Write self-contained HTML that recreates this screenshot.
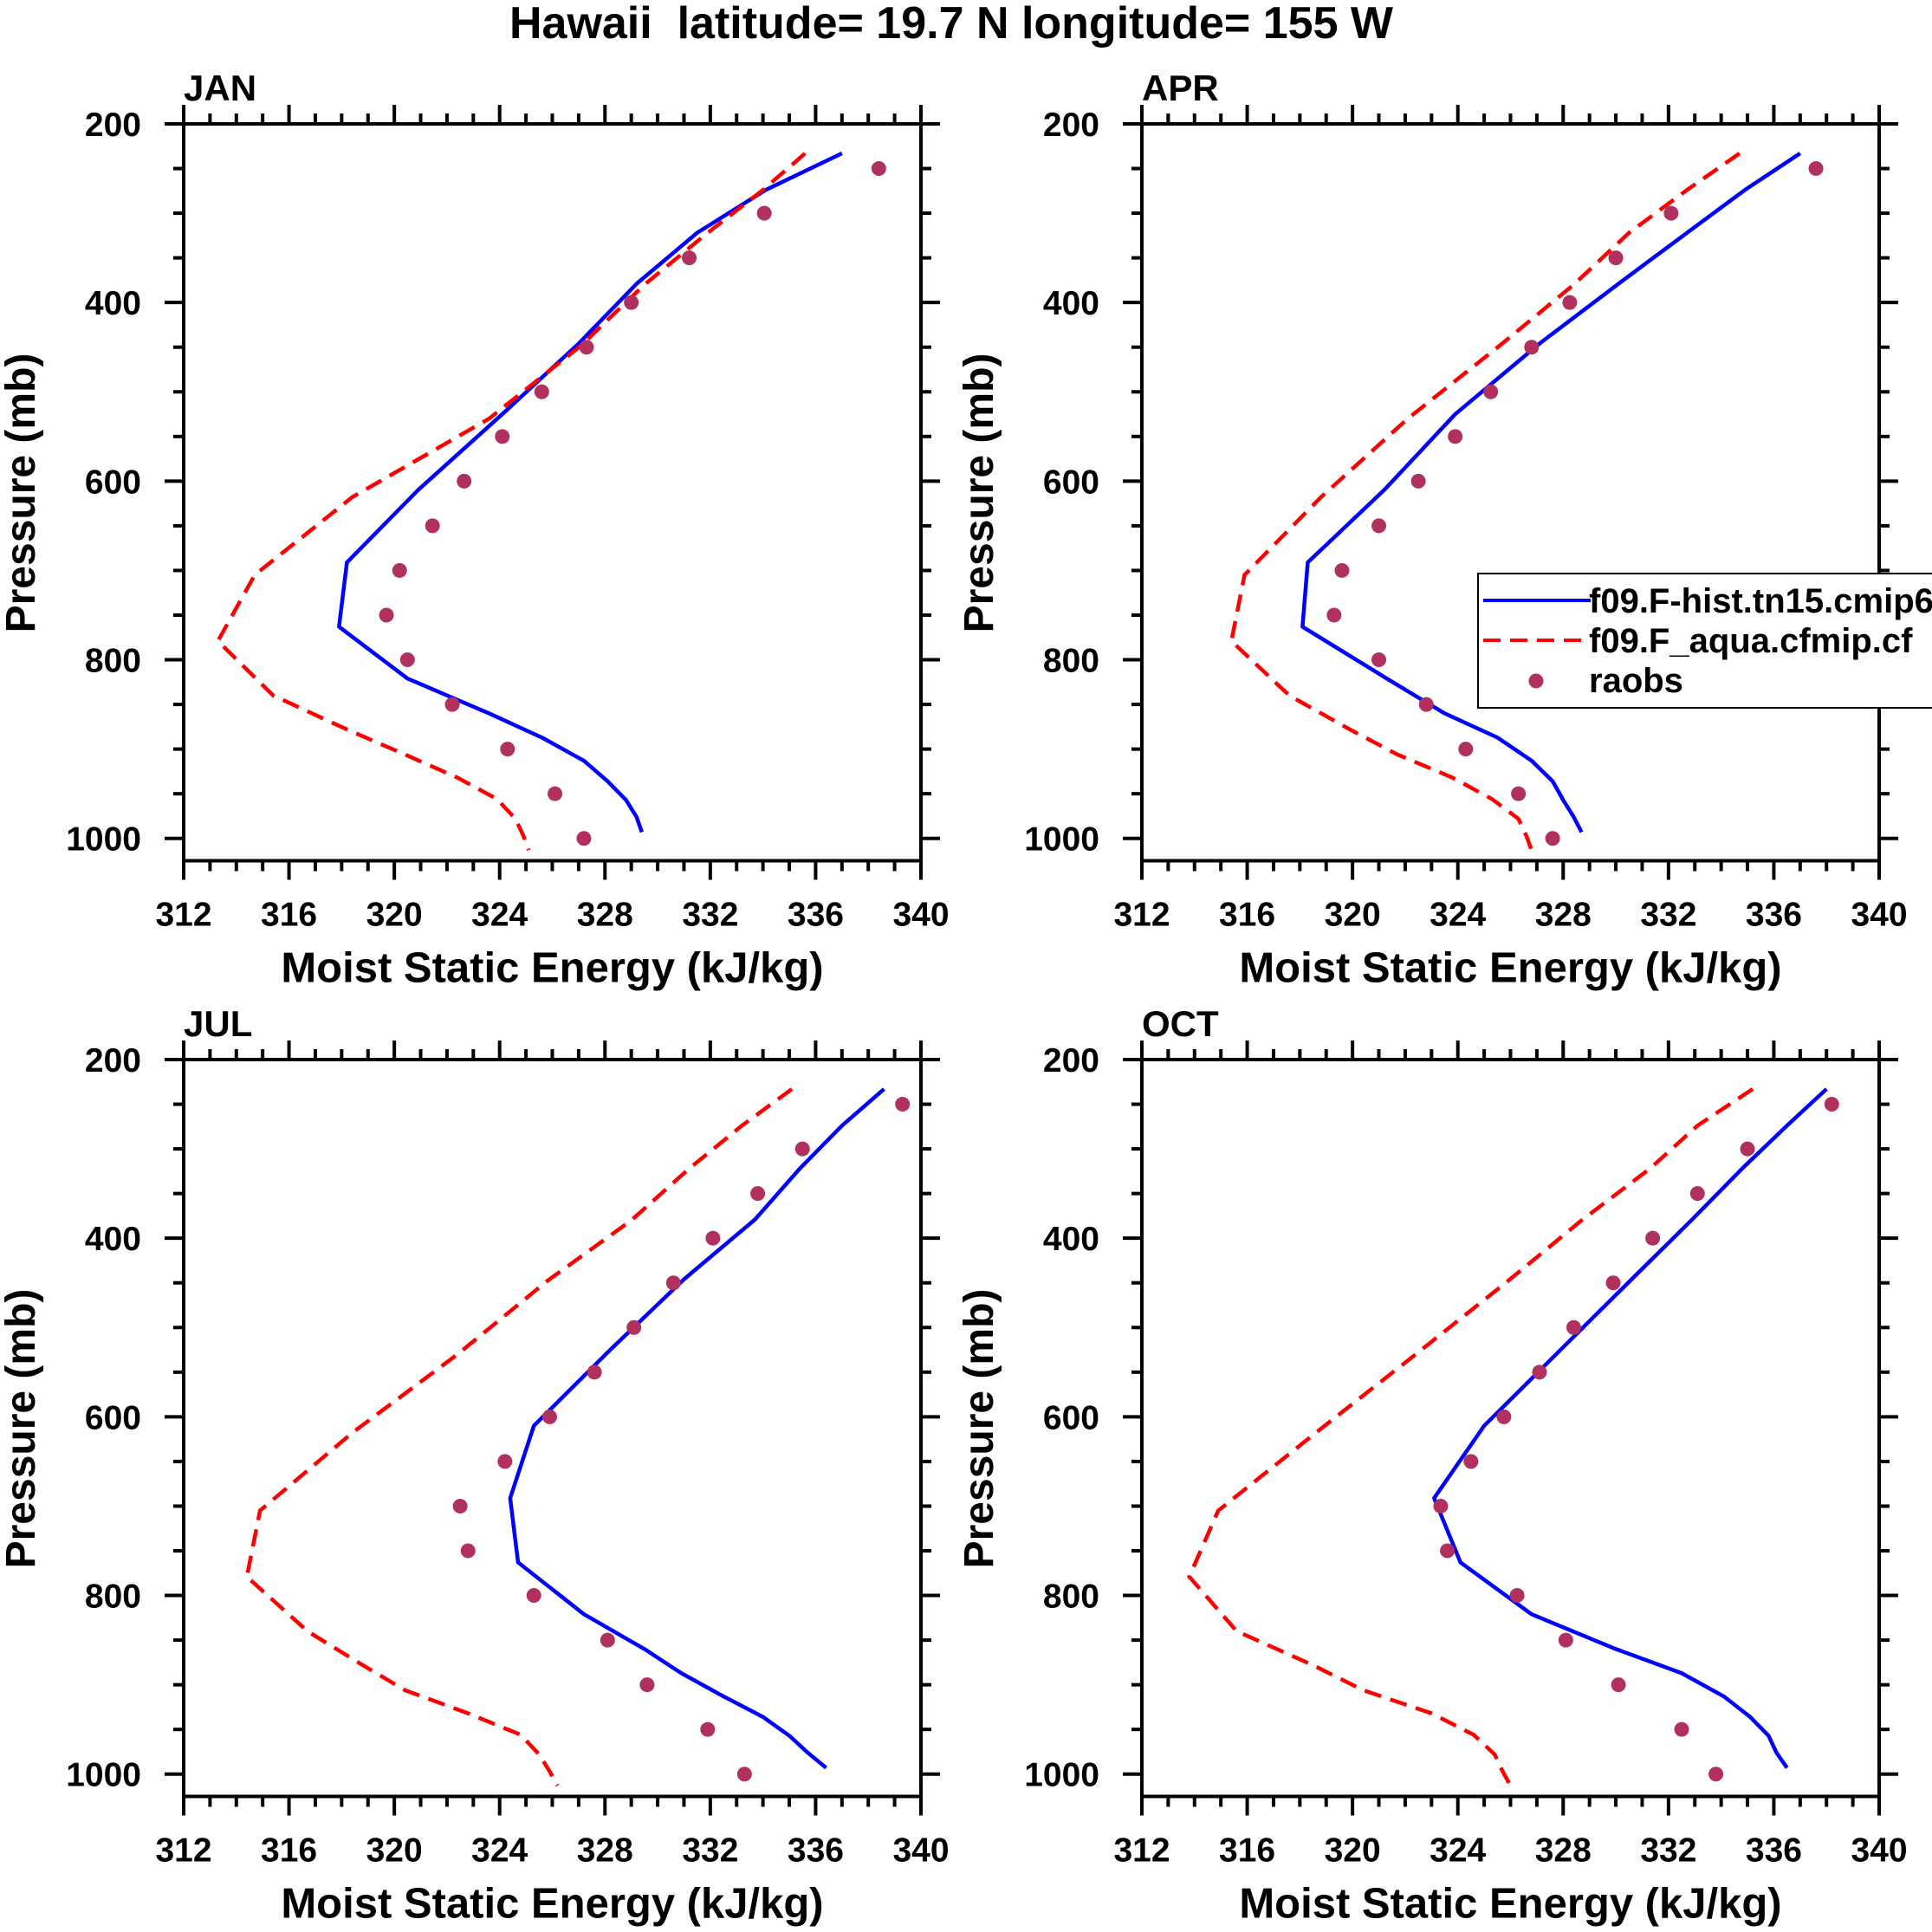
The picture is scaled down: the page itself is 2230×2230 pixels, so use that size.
<!DOCTYPE html>
<html><head><meta charset="utf-8"><style>
html,body{margin:0;padding:0;background:#fff;}
svg{display:block;font-family:"Liberation Sans",Arial,sans-serif;font-weight:bold;}
</style></head><body>
<svg id="chart" width="2230" height="2230" viewBox="0 0 2230 2230" xmlns="http://www.w3.org/2000/svg">
<text x="1098" y="44" font-size="52" text-anchor="middle" xml:space="preserve">Hawaii  latitude= 19.7 N longitude= 155 W</text>
</svg>
<script>
const months = ["JAN","APR","JUL","OCT"];
const modelLevels = [233,274,322,379,446,525,610,691,763,821,860,887,913,936,957,976,993];
const aquaLevels = [233,274,322,380,448,530,618,705,779,840,878,906,932,956,978,997,1013];
const obsLevels = [250,300,350,400,450,500,550,600,650,700,750,800,850,900,950,1000];
const histJAN = [337.0,334.1,331.5,329.2,327.0,324.1,320.9,318.2,317.9,320.5,323.6,325.6,327.2,328.1,328.8,329.2,329.4];
const histAPR = [337.0,334.9,332.7,330.1,327.1,323.9,321.2,318.3,318.1,321.3,323.5,325.5,326.8,327.6,328.0,328.4,328.7];
const histJUL = [338.6,337.0,335.4,333.7,331.0,328.2,325.3,324.4,324.7,327.2,329.5,330.9,332.5,334.0,335.0,335.7,336.4];
const histOCT = [338.0,336.5,334.8,332.9,330.6,327.9,325.0,323.1,324.1,326.8,330.0,332.5,334.1,335.1,335.8,336.1,336.5];
const aquaJAN = [335.6,334.0,331.9,329.5,327.1,323.6,318.4,314.7,313.3,315.4,318.2,320.4,322.4,323.9,324.6,324.9,325.1];
const aquaAPR = [334.7,332.7,330.5,328.4,325.6,322.1,318.8,315.9,315.4,317.6,319.9,321.7,323.8,325.3,326.3,326.6,326.8];
const aquaJUL = [335.1,333.2,331.2,329.0,325.8,322.4,318.4,314.9,314.4,316.7,318.8,320.4,322.8,324.8,325.5,325.9,326.2];
const aquaOCT = [335.2,333.1,331.3,328.7,325.9,322.4,318.6,314.9,313.8,315.6,318.5,320.4,323.0,324.6,325.4,325.7,326.0];
const obsJAN = [338.4,334.05,331.2,329.0,327.3,325.6,324.1,322.65,321.45,320.2,319.7,320.5,322.2,324.3,326.1,327.2];
const obsAPR = [337.6,332.1,330.0,328.25,326.8,325.25,323.9,322.5,321.0,319.6,319.3,321.0,322.8,324.3,326.3,327.6];
const obsJUL = [339.3,335.5,333.8,332.1,330.6,329.1,327.6,325.9,324.2,322.5,322.8,325.3,328.1,329.6,331.9,333.3];
const obsOCT = [338.2,335.0,333.1,331.4,329.9,328.4,327.1,325.75,324.5,323.35,323.6,326.25,328.1,330.1,332.5,333.8];
const xTicks = [312,316,320,324,328,332,336,340];
const yTicks = [200,400,600,800,1000];

const hist = [histJAN,histAPR,histJUL,histOCT];
const aqua = [aquaJAN,aquaAPR,aquaJUL,aquaOCT];
const obs = [obsJAN,obsAPR,obsJUL,obsOCT];
const NS = "http://www.w3.org/2000/svg";
const svg = document.getElementById("chart");
function mk(tag, attrs, parent){ const e=document.createElementNS(NS,tag); for(const k in attrs) e.setAttribute(k,attrs[k]); (parent||svg).appendChild(e); return e; }
const frames = [[212,143],[1318,143],[212,1223],[1318,1223]];
const W = 851, H = 850.5, XMIN=312, XMAX=340, PMIN=200, PMAX=1025;

months.forEach((m,i)=>{
  const [L,T] = frames[i];
  const g = mk("g",{});
  
  
  const sx = v => L + (v-XMIN)/(XMAX-XMIN)*W;
  const sy = p => T + (p-PMIN)/(PMAX-PMIN)*H;
  for(let v=XMIN; v<=XMAX; v++){
    const major = (v-XMIN)%4===0, len = major?22:12;
    mk("line",{x1:sx(v),x2:sx(v),y1:T+H,y2:T+H+len,stroke:"#000","stroke-width":4},g);
    mk("line",{x1:sx(v),x2:sx(v),y1:T,y2:T-len,stroke:"#000","stroke-width":4},g);
  }
  for(let p=PMIN; p<=1000; p+=50){
    const major = p%200===0, len = major?22:12;
    mk("line",{x1:L,x2:L-len,y1:sy(p),y2:sy(p),stroke:"#000","stroke-width":4},g);
    mk("line",{x1:L+W,x2:L+W+len,y1:sy(p),y2:sy(p),stroke:"#000","stroke-width":4},g);
  }
  const fr = mk("rect",{x:L,y:T,width:W,height:H,fill:"none",stroke:"#000","stroke-width":4},g);
  
  
  xTicks.forEach(v=>{
    const t = mk("text",{x:sx(v),y:T+H+75,"font-size":39,"text-anchor":"middle"},g);
    
    
    t.textContent = v;
  });
  yTicks.forEach(p=>{
    const t = mk("text",{x:L-49,y:sy(p)+14,"font-size":39,"text-anchor":"end"},g);
    
    
    t.textContent = p;
  });
  const xt = mk("text",{x:L+W/2,y:T+H+140,"font-size":49,"text-anchor":"middle"},g);
  
  
  xt.textContent = "Moist Static Energy (kJ/kg)";
  const yt = mk("text",{x:0,y:0,"font-size":48,"text-anchor":"middle",transform:`translate(${L-172},${T+426}) rotate(-90)`},g);
  
  
  yt.textContent = "Pressure (mb)";
  const pt = mk("text",{x:L,y:T-27,"font-size":42},g);
  
  
  pt.textContent = m;
  const ph = mk("polyline",{points:hist[i].map((v,k)=>sx(v)+","+sy(modelLevels[k])).join(" "),fill:"none",stroke:"#0000ff","stroke-width":4.5,"stroke-linejoin":"round"},g);
  
  
  const pa = mk("polyline",{points:aqua[i].map((v,k)=>sx(v)+","+sy(aquaLevels[k])).join(" "),fill:"none",stroke:"#ff0000","stroke-width":4.5,"stroke-dasharray":"20 11"},g);
  
  
  obs[i].forEach((v,k)=>{
    const c = mk("circle",{cx:sx(v),cy:sy(obsLevels[k]),r:8.5,fill:"#b03060"},g);
    
    
  });
});
const lg = mk("g",{});


mk("rect",{x:1706,y:662,width:600,height:155,fill:"#fff",stroke:"#000","stroke-width":2},lg);
mk("line",{x1:1712,x2:1836,y1:693,y2:693,stroke:"#0000ff","stroke-width":4},lg);
mk("line",{x1:1712,x2:1836,y1:739,y2:739,stroke:"#ff0000","stroke-width":4,"stroke-dasharray":"20 11"},lg);
mk("circle",{cx:1773,cy:786,r:8.5,fill:"#b03060"},lg);
const l1 = mk("text",{x:1834,y:707,"font-size":40},lg);


l1.textContent = "f09.F-hist.tn15.cmip6";
const l2 = mk("text",{x:1834,y:753,"font-size":40},lg);


l2.textContent = "f09.F_aqua.cfmip.cf";
const l3 = mk("text",{x:1834,y:799,"font-size":40},lg);


l3.textContent = "raobs";
</script>
</body></html>
